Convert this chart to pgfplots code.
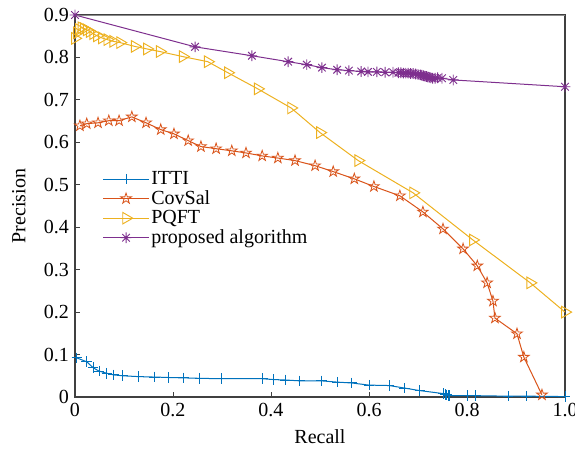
\documentclass[border=0pt]{standalone}
\usepackage{fontspec}
\setmainfont{Liberation Serif}
\usepackage{pgfplots}
\pgfplotsset{compat=1.18}
\definecolor{mblue}{RGB}{0,114,189}
\definecolor{mred}{RGB}{217,83,25}
\definecolor{myellow}{RGB}{237,177,32}
\definecolor{mpurple}{RGB}{126,47,142}
\pgfdeclareplotmark{pentagram}{%
  \pgfpathmoveto{\pgfpointpolar{90}{\pgfplotmarksize}}%
  \pgfpathlineto{\pgfpointpolar{126}{0.382\pgfplotmarksize}}%
  \pgfpathlineto{\pgfpointpolar{162}{\pgfplotmarksize}}%
  \pgfpathlineto{\pgfpointpolar{198}{0.382\pgfplotmarksize}}%
  \pgfpathlineto{\pgfpointpolar{234}{\pgfplotmarksize}}%
  \pgfpathlineto{\pgfpointpolar{270}{0.382\pgfplotmarksize}}%
  \pgfpathlineto{\pgfpointpolar{306}{\pgfplotmarksize}}%
  \pgfpathlineto{\pgfpointpolar{342}{0.382\pgfplotmarksize}}%
  \pgfpathlineto{\pgfpointpolar{18}{\pgfplotmarksize}}%
  \pgfpathlineto{\pgfpointpolar{54}{0.382\pgfplotmarksize}}%
  \pgfpathclose\pgfusepathqstroke}
\pgfdeclareplotmark{mstar}{%
  \pgfpathmoveto{\pgfpointpolar{0}{\pgfplotmarksize}}\pgfpathlineto{\pgfpointpolar{180}{\pgfplotmarksize}}%
  \pgfpathmoveto{\pgfpointpolar{45}{\pgfplotmarksize}}\pgfpathlineto{\pgfpointpolar{225}{\pgfplotmarksize}}%
  \pgfpathmoveto{\pgfpointpolar{90}{\pgfplotmarksize}}\pgfpathlineto{\pgfpointpolar{270}{\pgfplotmarksize}}%
  \pgfpathmoveto{\pgfpointpolar{135}{\pgfplotmarksize}}\pgfpathlineto{\pgfpointpolar{315}{\pgfplotmarksize}}%
  \pgfusepathqstroke}
\begin{document}
\begin{tikzpicture}
\begin{axis}[
  scale only axis,
  width=367.5pt, height=286.5pt,
  xmin=0, xmax=1, ymin=0, ymax=0.9,
  xtick={0,0.2,0.4,0.6,0.8,1.0},
  xticklabels={0,0.2,0.4,0.6,0.8,1.0},
  ytick={0,0.1,0.2,0.3,0.4,0.5,0.6,0.7,0.8,0.9},
  yticklabels={0,0.1,0.2,0.3,0.4,0.5,0.6,0.7,0.8,0.9},
  /pgf/number format/assume math mode=true,
  tick align=inside,
  xtick pos=bottom, ytick pos=left,
  major tick length=4pt,
  tick style={black!75, line width=0.6pt},
  axis line style={black!75, line width=0.8pt},
  tick label style={font=\fontsize{15}{17}\selectfont},
  label style={font=\fontsize{15}{17}\selectfont},
  xlabel={Recall}, ylabel={Precision},
  xticklabel style={yshift=-1pt},
  yticklabel style={xshift=-1pt},
  xlabel style={yshift=-3pt},
  ylabel style={yshift=7pt},
  legend style={draw=none, fill=none, at={(rel axis cs:0.048,0.603)}, anchor=north west,
    font=\fontsize{15}{17}\selectfont, nodes={inner sep=1.5pt}, row sep=0pt},
  legend cell align=left,
  legend image code/.code={\draw[mark repeat=2,mark phase=2] plot coordinates {(0cm,0cm)(0.6cm,0cm)(1.2cm,0cm)};},
  every axis plot/.append style={line width=0.75pt},
]
\addplot[mblue, mark=+, mark size=4pt, mark options={line width=0.75pt}] coordinates {
(0.004,0.092)(0.024,0.083)(0.037,0.069)(0.049,0.061)(0.065,0.056)(0.079,0.052)(0.097,0.050)
(0.130,0.048)(0.162,0.047)(0.190,0.046)(0.222,0.045)(0.255,0.044)(0.299,0.043)(0.383,0.043)
(0.406,0.041)(0.430,0.040)(0.459,0.038)(0.503,0.038)(0.536,0.035)(0.565,0.033)(0.600,0.028)
(0.641,0.027)(0.673,0.021)(0.704,0.015)(0.752,0.008)(0.756,0.006)(0.759,0.005)(0.762,0.004)(0.765,0.003)
(0.800,0.003)(0.818,0.003)(0.884,0.002)(0.922,0.002)(1.0,0.001)};
\addlegendentry{ITTI}
\addplot[mred, mark=pentagram, mark size=4.2pt, mark options={line width=0.6pt}] coordinates {
(0.010,0.639)(0.024,0.644)(0.047,0.646)(0.069,0.651)(0.090,0.651)(0.116,0.660)(0.145,0.646)
(0.175,0.630)(0.202,0.620)(0.231,0.604)(0.257,0.590)(0.288,0.585)(0.320,0.580)(0.349,0.575)
(0.382,0.568)(0.414,0.563)(0.449,0.557)(0.490,0.545)(0.527,0.531)(0.570,0.514)(0.610,0.496)
(0.663,0.474)(0.710,0.436)(0.751,0.396)(0.792,0.349)(0.821,0.309)(0.841,0.269)(0.853,0.226)
(0.857,0.186)(0.902,0.149)(0.916,0.094)(0.953,0.005)};
\addlegendentry{CovSal}
\addplot[myellow, mark=triangle, mark size=5pt, mark options={rotate=-90, line width=0.7pt}] coordinates {
(0.0,0.845)(0.004,0.858)(0.008,0.866)(0.013,0.870)(0.018,0.868)(0.024,0.865)(0.030,0.861)
(0.037,0.856)(0.045,0.851)(0.055,0.846)(0.066,0.842)(0.078,0.838)(0.092,0.835)(0.122,0.826)
(0.147,0.820)(0.173,0.814)(0.220,0.802)(0.271,0.790)(0.312,0.764)(0.373,0.726)(0.441,0.681)
(0.500,0.623)(0.578,0.557)(0.690,0.481)(0.812,0.370)(0.929,0.269)(1.0,0.200)};
\addlegendentry{PQFT}
\addplot[mpurple, mark=mstar, mark size=4pt, mark options={line width=0.7pt}] coordinates {
(0.0,0.900)(0.245,0.825)(0.361,0.804)(0.435,0.790)(0.473,0.783)(0.504,0.776)(0.535,0.771)
(0.559,0.769)(0.584,0.767)(0.598,0.766)(0.616,0.766)(0.633,0.765)(0.649,0.765)(0.660,0.764)
(0.665,0.764)(0.670,0.763)(0.675,0.763)(0.680,0.763)(0.685,0.762)(0.690,0.762)(0.695,0.761)
(0.700,0.760)(0.705,0.759)(0.708,0.758)(0.711,0.757)(0.714,0.756)(0.717,0.755)(0.720,0.754)
(0.723,0.753)(0.726,0.752)(0.730,0.751)(0.735,0.751)(0.740,0.752)(0.749,0.751)(0.772,0.747)(1.0,0.731)};
\addlegendentry{proposed algorithm}
\draw[black!45, line width=1.2pt] (rel axis cs:0,1) -- (rel axis cs:1,1);
\end{axis}
\pgfresetboundingbox
\path[use as bounding box] ([xshift=-56.25pt,yshift=-39.75pt]current axis.south west) rectangle ([xshift=7.5pt,yshift=11.25pt]current axis.north east);
\end{tikzpicture}
\end{document}
